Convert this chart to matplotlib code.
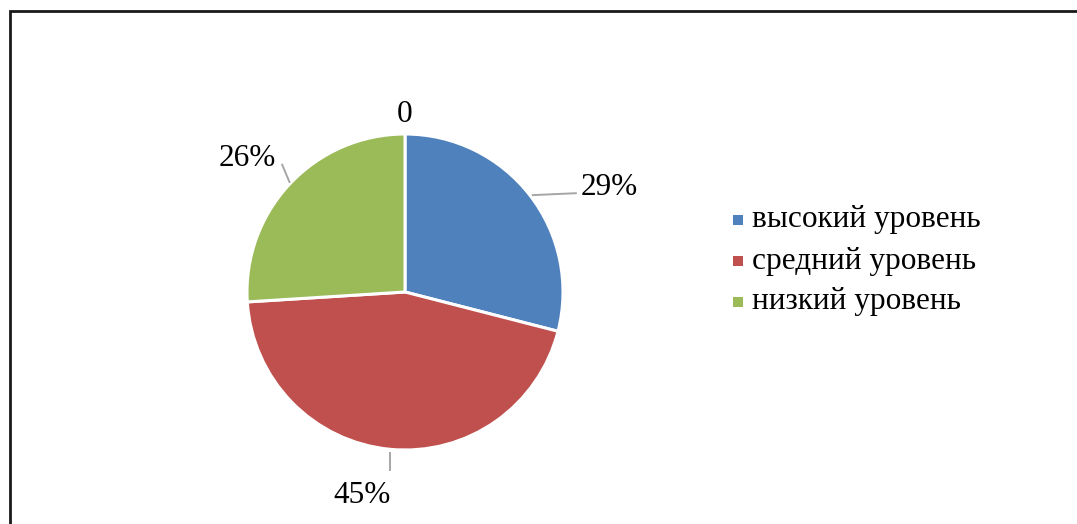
import numpy as np
import matplotlib
matplotlib.use("Agg")
import matplotlib.pyplot as plt
from matplotlib.patches import Rectangle

categories = ["высокий уровень", "средний уровень", "низкий уровень"]
values = [29, 45, 26]
labels = ["29%", "45%", "26%"]
colors = ["#4F81BD", "#C0504D", "#9BBB59"]
title_text = "0"

W, H = 1077, 524
plt.rcParams["font.family"] = ["Liberation Serif", "DejaVu Serif"]

fig = plt.figure(figsize=(W / 100, H / 100), dpi=100)
ax = fig.add_axes([0, 0, 1, 1])

# chart border (right and bottom edges run past the canvas)
ax.add_patch(Rectangle((10, -20), W + 40, H - 10.5 + 20, fill=False,
                       edgecolor="#1a1a1a", linewidth=2.0, zorder=5))

cx, cy, r = 405, 232, 158
wedges, _ = ax.pie(values, colors=colors, startangle=90, counterclock=False,
                   center=(cx, cy), radius=r, frame=True,
                   wedgeprops=dict(edgecolor="white", linewidth=2.2))
ax.set_xlim(0, W)
ax.set_ylim(0, H)
ax.set_aspect("equal")
ax.axis("off")

fs = 22.5
leader = dict(color="#A6A6A6", lw=1.4, solid_capstyle="butt")

# data labels with leader lines from each wedge's mid-angle
for w, lab in zip(wedges, labels):
    ang = np.deg2rad((w.theta1 + w.theta2) / 2)
    ex, ey = cx + r * np.cos(ang), cy + r * np.sin(ang)
    if np.cos(ang) > 0.5:
        x2, y2 = ex + 47, ey + 2
        ax.plot([ex + 2, x2], [ey, y2], **leader)
        ax.text(x2 + 4, y2 + 6, lab, fontsize=fs, ha="left", va="center")
    elif np.sin(ang) < -0.9:
        x2, y2 = ex, ey - 22
        ax.plot([ex, x2], [ey - 3, y2], **leader)
        ax.text(x2 + 1, y2 - 24, lab, fontsize=fs, ha="right", va="center")
    else:
        x2, y2 = ex - 8, ey + 20
        ax.plot([ex, x2], [ey + 1, y2], **leader)
        ax.text(x2 - 6, y2 + 5, lab, fontsize=fs, ha="right", va="center")

ax.text(cx, cy + r + 20, title_text, fontsize=fs, ha="center", va="center")

# legend
lx, ly0, dy = 738, 304, 41
for i, (cat, col) in enumerate(zip(categories, colors)):
    y = ly0 - i * dy
    ax.add_patch(Rectangle((lx - 5, y - 5), 10, 10, facecolor=col, edgecolor="none"))
    ax.text(lx + 14, y, cat, fontsize=fs, ha="left", va="center")

fig.savefig("out.png", dpi=100)
